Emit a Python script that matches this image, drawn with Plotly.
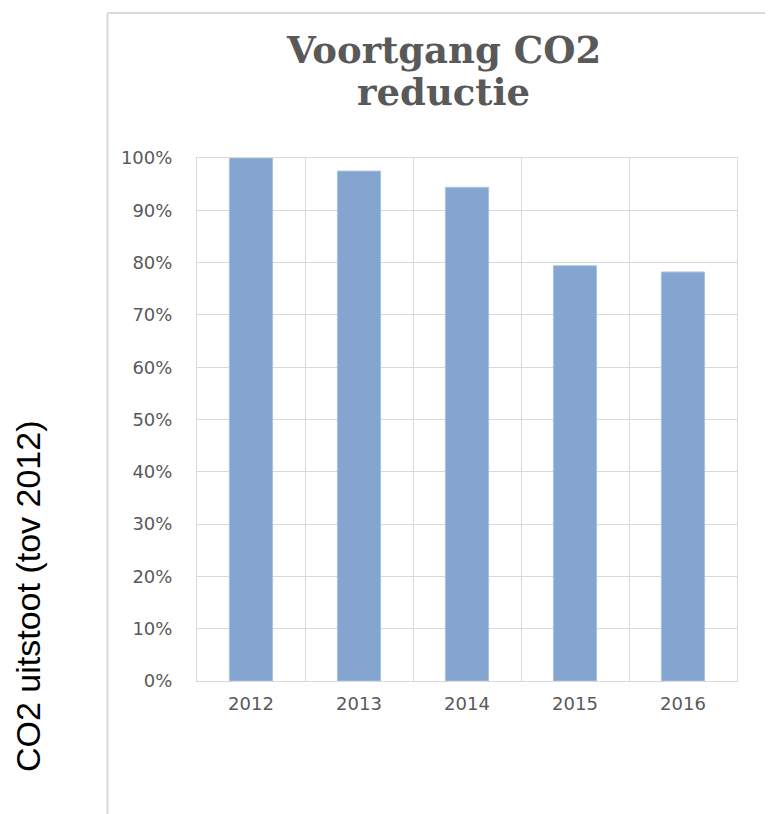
import plotly.graph_objects as go

years = ["2012", "2013", "2014", "2015", "2016"]
co2_share = [1.00, 0.975, 0.944, 0.794, 0.782]
y_ticks = [0, 0.1, 0.2, 0.3, 0.4, 0.5, 0.6, 0.7, 0.8, 0.9, 1.0]
y_tick_labels = ["0%", "10%", "20%", "30%", "40%", "50%", "60%", "70%", "80%", "90%", "100%"]
title_lines = ["Voortgang CO2", "reductie"]

# page body has an 8px margin; work in screenshot coordinates and subtract it
OFF = 8
SW, SH = 773, 814
W, H = SW - OFF, SH - OFF
PL, PR, PT, PB = 197, 737, 158, 681  # plot area in screenshot coords
L, R, T, B = PL - OFF, SW - PR, PT - OFF, SH - PB
pw, ph = PR - PL, PB - PT


def px(x):
    return (x - PL) / pw


def py(y):
    return (PB - y) / ph


fig = go.Figure(go.Bar(
    x=years, y=co2_share,
    marker=dict(color="rgb(131,165,207)", line=dict(color="rgb(170,195,225)", width=1)),
    hoverinfo="x+y",
))

grid = "#d9d9d9"
title_font = dict(family="DejaVu Serif", size=37, color="#595959")
annotations = [
    dict(text="<b>%s</b>" % line, xref="paper", yref="paper",
         x=px(443), y=py(yc), xanchor="center", yanchor="middle",
         showarrow=False, font=title_font)
    for line, yc in zip(title_lines, [50, 92])
]
annotations.append(dict(
    text="CO2 uitstoot (tov 2012)", textangle=-90,
    xref="paper", yref="paper",
    x=px(28), y=py(596),
    xanchor="center", yanchor="middle", showarrow=False,
    font=dict(family="Liberation Sans", size=34, color="black"),
))

fig.update_layout(
    width=W, height=H,
    margin=dict(l=L, r=R, t=T, b=B, autoexpand=False),
    paper_bgcolor="white", plot_bgcolor="white",
    bargap=0.6,
    showlegend=False,
    xaxis=dict(
        type="category", tickson="boundaries", showgrid=True, gridcolor=grid, gridwidth=1,
        showline=True, linecolor=grid, mirror=True, ticks="",
        tickfont=dict(family="DejaVu Sans", size=18, color="#595959"),
        ticklabelstandoff=6,
    ),
    yaxis=dict(
        range=[0, 1], tickvals=y_ticks, ticktext=y_tick_labels,
        showgrid=True, gridcolor=grid, gridwidth=1, zeroline=False,
        showline=True, linecolor=grid, mirror=True, ticks="",
        tickfont=dict(family="DejaVu Sans", size=18, color="#595959"),
        ticklabelstandoff=20,
    ),
    annotations=annotations,
    shapes=[
        dict(type="line", xref="paper", yref="paper",
             x0=px(107.5), x1=px(107.5), y0=py(13), y1=py(SH + 5),
             line=dict(color=grid, width=2)),
        dict(type="line", xref="paper", yref="paper",
             x0=px(107.5), x1=px(SW + 5), y0=py(13), y1=py(13),
             line=dict(color=grid, width=2)),
    ],
)

fig.write_html("out.html")
